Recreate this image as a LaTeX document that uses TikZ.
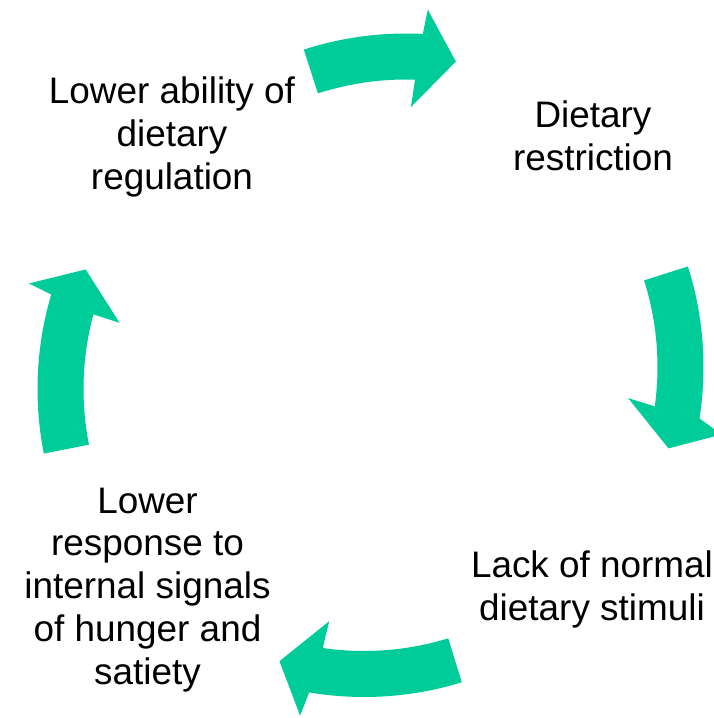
\documentclass[tikz,border=0pt]{standalone}
\usepackage{fontspec}
\setmainfont{Liberation Sans}
\definecolor{cyclegreen}{HTML}{00CC99}
% block arrow on a circle round #1: tail, shaft end out/in, head corner out/in, tip
\newcommand{\CycleArrow}[7]{%
    \fill[cyclegreen, shift={#1}] (#2:332.5) arc[start angle=#2, end angle=#3, radius=332.5]
        -- (#5:357) -- (#7:308.5) -- (#6:259) -- (#4:286.5)
        arc[start angle=#4, end angle=#2, radius=286.5] -- cycle;}
\tikzset{label/.style={align=center, font=\fontsize{21}{24.4}\selectfont}}

\begin{document}
\begin{tikzpicture}[x=0.02cm, y=0.02cm]
            \useasboundingbox (0,0) rectangle (714,718);
            \node[label] (ability) at (172,581) {Lower ability of\\dietary\\regulation};
            \node[label] (restriction) at (593,582) {Dietary\\restriction};
            \node[label] (stimuli) at (592,128.5) {Lack of normal\\dietary stimuli};
            \node[label] (signals) at (147.5,128) {Lower\\response to\\internal signals\\of hunger and\\satiety};
            \CycleArrow{(406,352)}{107.9}{87.1}{88.2}{86.5}{88.9}{80.7}
            \CycleArrow{(371,351)}{17.6}{-8.9}{-7.9}{-10.9}{-6.9}{-15.3}
            \CycleArrow{(364,353.5)}{-72.9}{-99.5}{-98.3}{-100.3}{-97.7}{-105.9}
            \CycleArrow{(370,329)}{191.2}{163.5}{164.9}{162.8}{165.2}{157.2}
        \end{tikzpicture}
\end{document}
